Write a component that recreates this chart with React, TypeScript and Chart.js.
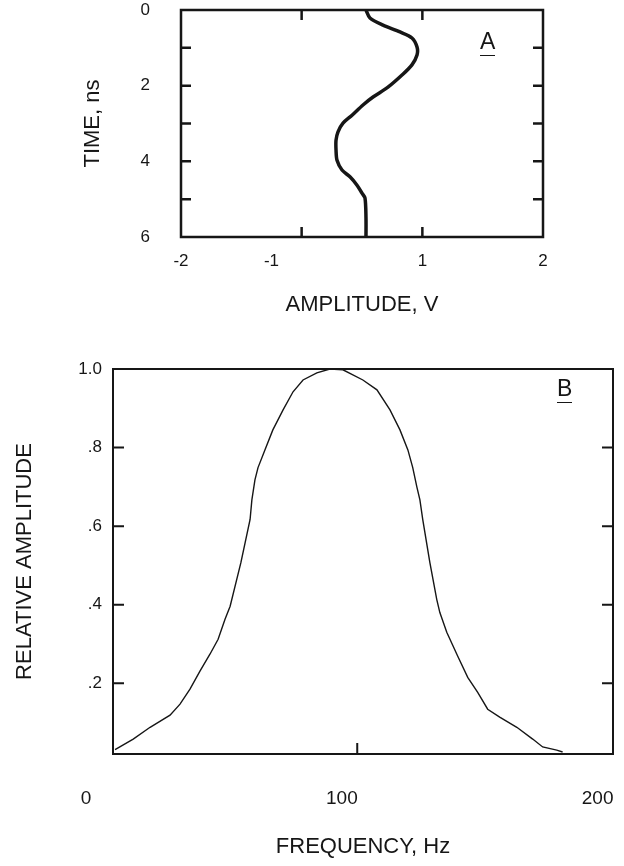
import React, { useEffect, useRef } from "react";
import { Chart, registerables } from "chart.js";

Chart.register(...registerables);

// ---------- Panel A: time vs amplitude ----------
const TIME_NS = [0, 0.21, 0.4, 0.58, 0.74, 0.98, 1.19, 1.45, 1.72, 2.04, 2.3, 2.51, 2.78, 2.99, 3.22, 3.44, 3.7, 3.97, 4.23, 4.41, 4.63, 4.84, 4.97, 5.5, 6.0];
const AMPLITUDE_V = [0.044, 0.088, 0.232, 0.42, 0.552, 0.608, 0.608, 0.552, 0.442, 0.287, 0.122, 0.011, -0.11, -0.21, -0.265, -0.287, -0.287, -0.276, -0.221, -0.133, -0.055, 0, 0.033, 0.044, 0.044];
const TIME_TICKS = [0, 2, 4, 6];
const TIME_MINOR_TICKS = [1, 2, 3, 4, 5];
const AMP_TICK_VALUES = [-2, -1, 0.667, 2];
const AMP_TICK_LABELS = ["-2", "-1", "1", "2"];
const AMP_MINOR_TICKS = [-0.667, 0.667];

// ---------- Panel B: relative amplitude vs frequency ----------
const FREQ_HZ = [11.3, 18.4, 25.0, 32.8, 36.7, 40.6, 44.5, 48.4, 51.6, 54.3, 56.3, 60.5, 64.1, 64.8, 66.0, 67.2, 69.9, 73.0, 77.0, 80.9, 84.8, 90.2, 95.3, 100.4, 108.2, 113.7, 118.8, 122.7, 125.8, 127.7, 129.3, 130.5, 131.6, 134.4, 137.1, 138.3, 141.0, 145.3, 149.2, 153.1, 157.0, 161.7, 168.4, 174.6, 178.5, 184.0, 186.3];
const REL_AMP = [0.031, 0.058, 0.088, 0.119, 0.147, 0.185, 0.231, 0.274, 0.312, 0.363, 0.396, 0.507, 0.617, 0.667, 0.718, 0.749, 0.794, 0.845, 0.896, 0.942, 0.972, 0.99, 1.0, 0.998, 0.972, 0.947, 0.896, 0.845, 0.794, 0.749, 0.7, 0.667, 0.617, 0.507, 0.413, 0.38, 0.33, 0.269, 0.215, 0.177, 0.134, 0.114, 0.088, 0.058, 0.038, 0.03, 0.025];
const FREQ_TICKS = [0, 100, 200];
const FREQ_MINOR_TICKS = [106];
const REL_TICK_VALUES = [0.2, 0.4, 0.6, 0.8, 1.0];
const REL_TICK_LABELS = [".2", ".4", ".6", ".8", "1.0"];
const REL_MINOR_TICKS = [0.2, 0.4, 0.6, 0.8];

const FONT = "'Liberation Sans', Arial, sans-serif";
const INK = "#161616";

const framePlugin = {
  id: "frame",
  afterDatasetsDraw(chart: any, _args: any, opts: any) {
    const { ctx, chartArea, scales } = chart;
    const { left, right, top, bottom } = chartArea;
    ctx.save();
    ctx.strokeStyle = INK;
    ctx.lineWidth = opts.width;
    ctx.strokeRect(left, top, right - left, bottom - top);
    ctx.lineWidth = opts.tickWidth;
    ctx.beginPath();
    const len = opts.len;
    for (const v of opts.yMinor || []) {
      const p = scales.y.getPixelForValue(v);
      ctx.moveTo(left, p);
      ctx.lineTo(left + len, p);
      ctx.moveTo(right, p);
      ctx.lineTo(right - len, p);
    }
    for (const v of opts.xMinor || []) {
      const p = scales.x.getPixelForValue(v);
      ctx.moveTo(p, bottom);
      ctx.lineTo(p, bottom - len);
      if (opts.xTop) {
        ctx.moveTo(p, top);
        ctx.lineTo(p, top + len);
      }
    }
    ctx.stroke();
    ctx.restore();
  },
};

export default function App() {
  const topRef = useRef<HTMLCanvasElement>(null);
  const botRef = useRef<HTMLCanvasElement>(null);

  useEffect(() => {
    const tickFont = { family: FONT, size: 17 };
    const titleFont = { family: FONT, size: 22 };

    const c1 = new Chart(topRef.current as HTMLCanvasElement, {
      type: "scatter",
      data: {
        datasets: [
          {
            data: TIME_NS.map((t, i) => ({ x: AMPLITUDE_V[i], y: t })),
            showLine: true,
            borderColor: INK,
            borderWidth: 3.5,
            pointRadius: 0,
            tension: 0.3,
          },
        ],
      },
      options: {
        animation: false,
        responsive: false,
        layout: { padding: { left: 80, right: 81, top: 10, bottom: 12 } },
        plugins: {
          legend: { display: false },
          tooltip: { enabled: false },
          frame: { width: 2.5, tickWidth: 2.5, len: 10, yMinor: TIME_MINOR_TICKS, xMinor: AMP_MINOR_TICKS, xTop: true },
        } as any,
        scales: {
          x: {
            type: "linear",
            min: -2,
            max: 2,
            grid: { display: false, drawTicks: false },
            border: { display: false },
            afterBuildTicks: (s: any) => {
              s.ticks = AMP_TICK_VALUES.map((v) => ({ value: v }));
            },
            afterFit: (s: any) => {
              s.height = 81;
              s.paddingLeft = 0;
              s.paddingRight = 0;
            },
            ticks: {
              autoSkip: false,
              maxRotation: 0,
              padding: 14,
              font: tickFont,
              color: INK,
              callback: (_v: any, i: number) => AMP_TICK_LABELS[i],
            },
            title: { display: true, text: "AMPLITUDE, V", font: titleFont, color: INK, padding: 0 },
          },
          y: {
            type: "linear",
            min: 0,
            max: 6,
            reverse: true,
            grid: { display: false, drawTicks: false },
            border: { display: false },
            afterBuildTicks: (s: any) => {
              s.ticks = TIME_TICKS.map((v) => ({ value: v }));
            },
            afterFit: (s: any) => {
              s.width = 101;
              s.paddingTop = 0;
              s.paddingBottom = 0;
            },
            ticks: { autoSkip: false, padding: 31, font: tickFont, color: INK },
            title: { display: true, text: "TIME, ns", font: titleFont, color: INK, padding: 0 },
          },
        },
      },
      plugins: [framePlugin as any],
    });

    const c2 = new Chart(botRef.current as HTMLCanvasElement, {
      type: "scatter",
      data: {
        datasets: [
          {
            data: FREQ_HZ.map((f, i) => ({ x: f, y: REL_AMP[i] })),
            showLine: true,
            borderColor: INK,
            borderWidth: 1.4,
            pointRadius: 0,
            tension: 0,
          },
        ],
      },
      options: {
        animation: false,
        responsive: false,
        layout: { padding: { left: 12, right: 11, top: 39, bottom: 6 } },
        plugins: {
          legend: { display: false },
          tooltip: { enabled: false },
          frame: { width: 2, tickWidth: 2, len: 11, yMinor: REL_MINOR_TICKS, xMinor: FREQ_MINOR_TICKS, xTop: false },
        } as any,
        scales: {
          x: {
            type: "linear",
            min: 10.5,
            max: 206,
            grid: { display: false, drawTicks: false },
            border: { display: false },
            afterBuildTicks: (s: any) => {
              s.ticks = FREQ_TICKS.map((v) => ({ value: v }));
            },
            afterFit: (s: any) => {
              s.height = 106;
              s.paddingLeft = 0;
              s.paddingRight = 0;
            },
            ticks: { autoSkip: false, maxRotation: 0, padding: 33, font: { family: FONT, size: 19 }, color: INK },
            title: { display: true, text: "FREQUENCY, Hz", font: titleFont, color: INK, padding: 0 },
          },
          y: {
            type: "linear",
            min: 0.02,
            max: 1.0,
            grid: { display: false, drawTicks: false },
            border: { display: false },
            afterBuildTicks: (s: any) => {
              s.ticks = REL_TICK_VALUES.map((v) => ({ value: v }));
            },
            afterFit: (s: any) => {
              s.width = 101;
              s.paddingTop = 0;
              s.paddingBottom = 0;
            },
            ticks: {
              autoSkip: false,
              padding: 11,
              font: tickFont,
              color: INK,
              callback: (_v: any, i: number) => REL_TICK_LABELS[i],
            },
            title: { display: true, text: "RELATIVE AMPLITUDE", font: titleFont, color: INK, padding: 0 },
          },
        },
      },
      plugins: [framePlugin as any],
    });

    return () => {
      c1.destroy();
      c2.destroy();
    };
  }, []);

  const panelLabel: React.CSSProperties = {
    position: "absolute",
    fontFamily: FONT,
    fontSize: 23,
    lineHeight: "23px",
    color: INK,
    paddingBottom: 2,
    borderBottom: `1.5px solid ${INK}`,
  };

  return (
    <div style={{ position: "fixed", left: 0, top: 0, width: 624, height: 866, background: "#fff" }}>
      <canvas ref={topRef} width={624} height={330} style={{ position: "absolute", left: 0, top: 0 }} />
      <canvas ref={botRef} width={624} height={536} style={{ position: "absolute", left: 0, top: 330 }} />
      <span style={{ ...panelLabel, left: 480, top: 30 }}>A</span>
      <span style={{ ...panelLabel, left: 557, top: 377 }}>B</span>
    </div>
  );
}
